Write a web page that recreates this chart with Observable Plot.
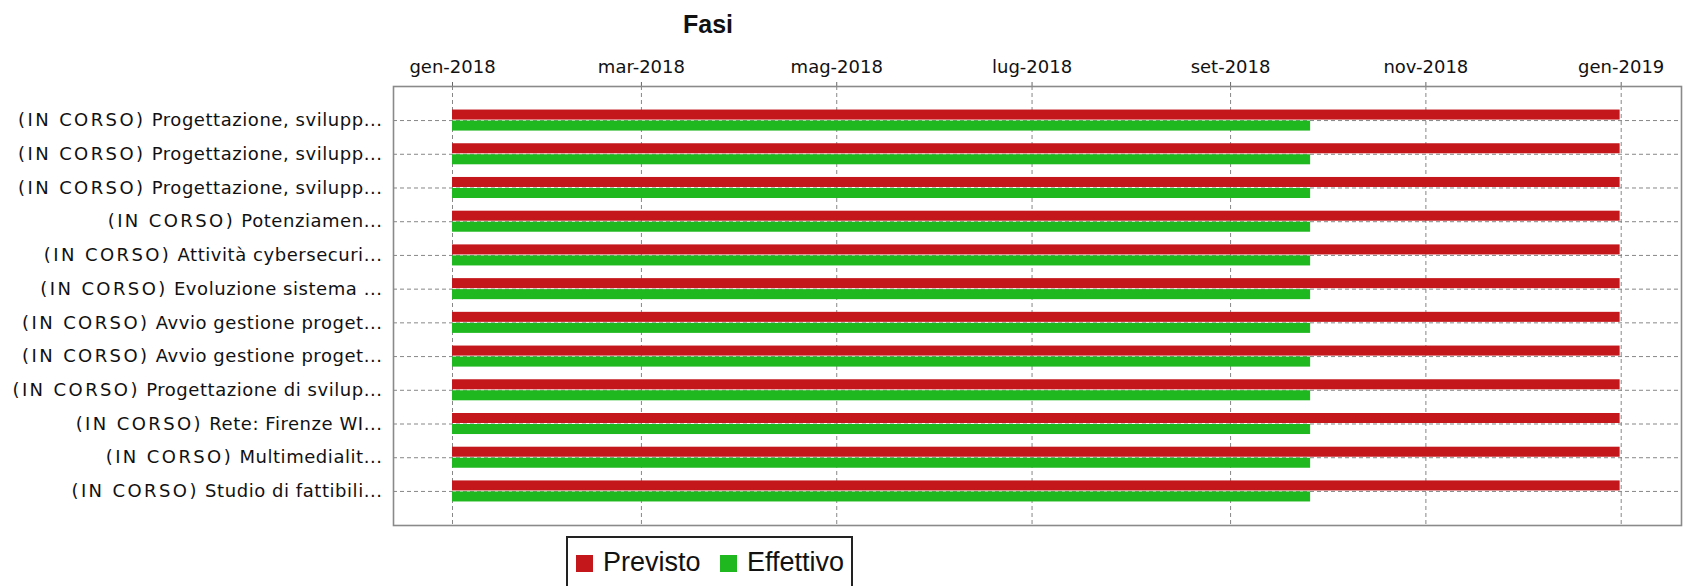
<!DOCTYPE html>
<html>
<head>
<meta charset="utf-8">
<script src="https://cdn.jsdelivr.net/npm/d3@7"></script>
<script src="https://cdn.jsdelivr.net/npm/@observablehq/plot@0.6"></script>
<style>
  html, body { margin: 0; padding: 0; background: #fff; }
  #wrap { position: relative; width: 1689px; height: 586px; overflow: hidden; background: #fff; }
  #title { position: absolute; left: 608px; top: 12px; width: 200px; text-align: center;
           font: bold 25px/25px "Liberation Sans", Arial, sans-serif; color: #111; }
  #chart { position: absolute; left: 0; top: 44px; }
  #legend { position: absolute; left: 566px; top: 536px; width: 287px; height: 70px;
            border: 2px solid #222; box-sizing: border-box; background: #fff;
            font: 27px/28px "Liberation Sans", Arial, sans-serif; color: #111; }
  #legend .sw { position: absolute; width: 17px; height: 17px; top: 17px; }
  #legend .lb { position: absolute; top: 10px; white-space: nowrap; }
</style>
</head>
<body>
<div id="wrap">
  <div id="title">Fasi</div>
  <div id="chart"></div>
  <div id="legend"></div>
</div>
<script>
// ---- data ----
const taskLabels = [
  "(IN CORSO) Progettazione, svilupp...",
  "(IN CORSO) Progettazione, svilupp...",
  "(IN CORSO) Progettazione, svilupp...",
  "(IN CORSO) Potenziamen...",
  "(IN CORSO) Attività cybersecuri...",
  "(IN CORSO) Evoluzione sistema ...",
  "(IN CORSO) Avvio gestione proget...",
  "(IN CORSO) Avvio gestione proget...",
  "(IN CORSO) Progettazione di svilup...",
  "(IN CORSO) Rete: Firenze WI...",
  "(IN CORSO) Multimedialit...",
  "(IN CORSO) Studio di fattibili..."
];
const plannedStart = ["2018-01-01","2018-01-01","2018-01-01","2018-01-01","2018-01-01","2018-01-01",
                      "2018-01-01","2018-01-01","2018-01-01","2018-01-01","2018-01-01","2018-01-01"];
const plannedEnd   = ["2018-12-31T16:00","2018-12-31T16:00","2018-12-31T16:00","2018-12-31T16:00",
                      "2018-12-31T16:00","2018-12-31T16:00","2018-12-31T16:00","2018-12-31T16:00",
                      "2018-12-31T16:00","2018-12-31T16:00","2018-12-31T16:00","2018-12-31T16:00"];
const actualStart  = ["2018-01-01","2018-01-01","2018-01-01","2018-01-01","2018-01-01","2018-01-01",
                      "2018-01-01","2018-01-01","2018-01-01","2018-01-01","2018-01-01","2018-01-01"];
const actualEnd    = ["2018-09-26","2018-09-26","2018-09-26","2018-09-26","2018-09-26","2018-09-26",
                      "2018-09-26","2018-09-26","2018-09-26","2018-09-26","2018-09-26","2018-09-26"];
const seriesNames = ["Previsto", "Effettivo"];
const seriesColors = ["#c3171c", "#1fb81f"];
const tickDates = ["2018-01-01","2018-03-01","2018-05-01","2018-07-01","2018-09-01","2018-11-01","2019-01-01"];
const monthAbbr = ["gen","feb","mar","apr","mag","giu","lug","ago","set","ott","nov","dic"];

// ---- build ----
const parse = s => new Date(s.length > 10 ? s + ":00Z" : s + "T00:00:00Z");
const rows = taskLabels.map((label, i) => ({
  i, label,
  ps: parse(plannedStart[i]), pe: parse(plannedEnd[i]),
  as: parse(actualStart[i]), ae: parse(actualEnd[i])
}));
const ticks = tickDates.map(parse);
const idx = rows.map(r => r.i);

const W = 1689, H = 486, mt = 42, mb = 5, ml = 393, mr = 8;
const pIn = 0.376, pOut = 0.698;
const step = (H - mt - mb) / (rows.length - pIn + 2 * pOut);
const bw = step * (1 - pIn);

const gridStyle = {stroke: "#7a7a7a", strokeWidth: 1, strokeDasharray: "4,3", strokeOpacity: 0.9};

const svg = Plot.plot({
  width: W, height: H,
  marginTop: mt, marginBottom: mb, marginLeft: ml, marginRight: mr,
  style: {fontFamily: "'DejaVu Sans', sans-serif", fontSize: "18px", color: "#111", background: "#fff"},
  x: {type: "utc", domain: [new Date("2017-12-13T13:40:00Z"), new Date("2019-01-19T20:00:00Z")], label: null},
  y: {type: "band", domain: idx, paddingInner: pIn, paddingOuter: pOut, round: false, label: null},
  marks: [
    Plot.ruleX(ticks, {x: d => d, ...gridStyle}),
    Plot.ruleY(idx, {y: d => d, ...gridStyle}),
    Plot.barX(rows, {x1: "ps", x2: "pe", y: "i", fill: seriesColors[0], insetBottom: bw / 2 + 0.5}),
    Plot.barX(rows, {x1: "as", x2: "ae", y: "i", fill: seriesColors[1], insetTop: bw / 2 + 0.5}),
    Plot.axisX({anchor: "top", ticks: ticks, tickSize: 5, tickPadding: 9, stroke: "#666",
                tickFormat: d => monthAbbr[d.getUTCMonth()] + "-" + d.getUTCFullYear(), fontSize: 18}),
    Plot.axisY({anchor: "left", tickSize: 0, tickPadding: 11, tickFormat: i => taskLabels[i], fontSize: 18}),
    Plot.frame({stroke: "#8a8a8a", strokeWidth: 1.6})
  ]
});

// widen the "(IN CORSO)" prefix like the reference rendering
d3.select(svg).selectAll('[aria-label="y-axis tick label"] text').each(function () {
  const full = this.textContent;
  const prefix = "(IN CORSO)";
  if (full.startsWith(prefix)) {
    const sel = d3.select(this);
    sel.text(null);
    sel.append("tspan").attr("letter-spacing", 2.4).text(prefix);
    sel.append("tspan").attr("letter-spacing", 0.55).text(full.slice(prefix.length));
  }
});

document.getElementById("chart").appendChild(svg);

// legend
const lg = document.getElementById("legend");
const legendPos = [[8, 35], [152, 179]];
seriesNames.forEach((name, k) => {
  const sw = document.createElement("div");
  sw.className = "sw"; sw.style.left = legendPos[k][0] + "px"; sw.style.background = seriesColors[k];
  const lb = document.createElement("div");
  lb.className = "lb"; lb.style.left = legendPos[k][1] + "px"; lb.textContent = name;
  lg.appendChild(sw); lg.appendChild(lb);
});
</script>
</body>
</html>
